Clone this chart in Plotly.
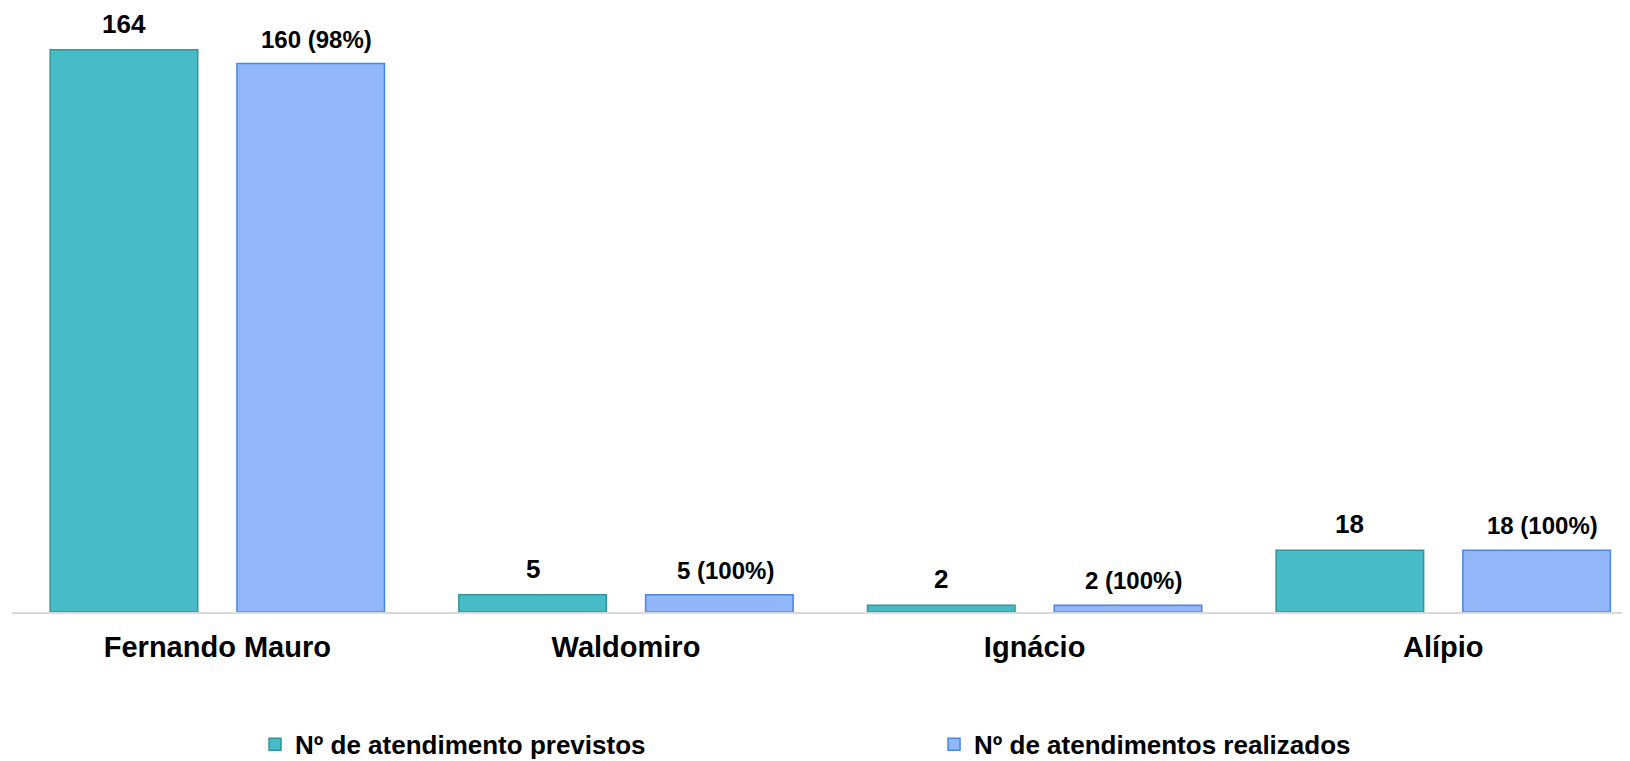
import plotly.graph_objects as go

# Data
categories = ["Fernando Mauro", "Waldomiro", "Ignácio", "Alípio"]
previstos = [164, 5, 2, 18]
realizados = [160, 5, 2, 18]

series_names = ["Nº de atendimento previstos", "Nº de atendimentos realizados"]

# Styling
FONT = "Arial, Liberation Sans, sans-serif"
TEAL_FILL = "#48BCC6"
TEAL_LINE = "#2F979C"
BLUE_FILL = "#91B7FA"
BLUE_LINE = "#4A86E8"
BAR_WIDTH = 0.361
OFFSETS = [-0.409, 0.048]

x_idx = list(range(len(categories)))
pct = [round(r / p * 100) for r, p in zip(realizados, previstos)]
labels_prev = [str(v) for v in previstos]
labels_real = [f"{r} ({q}%)" for r, q in zip(realizados, pct)]

fig = go.Figure()
fig.add_trace(go.Bar(
    x=x_idx, y=previstos, name=series_names[0],
    width=BAR_WIDTH, offset=OFFSETS[0],
    marker=dict(color=TEAL_FILL, line=dict(color=TEAL_LINE, width=1.5)),
    hoverinfo="skip",
))
fig.add_trace(go.Bar(
    x=x_idx, y=realizados, name=series_names[1],
    width=BAR_WIDTH, offset=OFFSETS[1],
    marker=dict(color=BLUE_FILL, line=dict(color=BLUE_LINE, width=1.5)),
    hoverinfo="skip",
))

# Value labels above the bars
for i in x_idx:
    fig.add_annotation(
        x=i + OFFSETS[0] + BAR_WIDTH / 2, y=previstos[i], text=labels_prev[i],
        showarrow=False, yanchor="bottom", yshift=9,
        font=dict(family=FONT, size=26, color="#000000", weight="bold"),
    )
    fig.add_annotation(
        x=i + OFFSETS[1] + BAR_WIDTH / 2, y=realizados[i], text=labels_real[i],
        showarrow=False, yanchor="bottom", yshift=9, xshift=6,
        font=dict(family=FONT, size=24, color="#000000", weight="bold"),
    )

# the page body adds an 8px margin, so the figure is 8px smaller than the window
fig.update_layout(
    width=1622, height=753,
    margin=dict(l=4, r=0, t=12, b=149),
    paper_bgcolor="white", plot_bgcolor="white",
    barmode="overlay",
    font=dict(family=FONT, color="#000000"),
    showlegend=True,
    legend=dict(
        orientation="h", xref="container", yref="container",
        x=0.1523, y=0.022, xanchor="left", yanchor="middle",
        entrywidth=634, entrywidthmode="pixels",
        font=dict(family=FONT, size=26, weight="bold"),
    ),
    xaxis=dict(
        range=[-0.5025, 3.457],
        tickvals=x_idx, ticktext=categories,
        tickfont=dict(family=FONT, size=29, weight="bold"),
        showline=True, linecolor="#D9D9D9", linewidth=2,
        showgrid=False, zeroline=False, ticks="", ticklabelstandoff=8,
    ),
    yaxis=dict(
        range=[0, 172.7], visible=False, showgrid=False, zeroline=False,
    ),
)

fig.write_html("out.html")
